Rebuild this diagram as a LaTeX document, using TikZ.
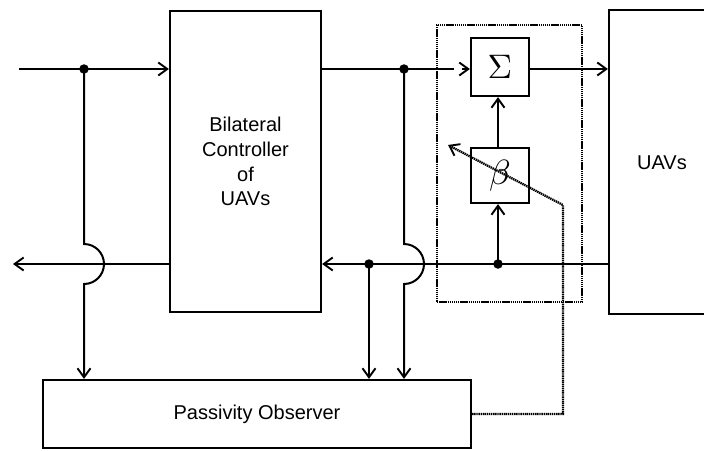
\documentclass[tikz,border=0pt]{standalone}
\usepackage{fontspec}
\setmainfont{Liberation Sans}
\usetikzlibrary{arrows.meta}
\begin{document}
\begin{tikzpicture}[x=1pt,y=-1pt,
  line width=2pt,
  blk/.style={draw, line width=2.2pt, inner sep=0pt, font=\fontsize{20}{24.7}\selectfont},
  sigarr/.style={-{Straight Barb[length=9pt,width=13pt,line width=1.9pt]}},
  dotline/.style={line width=2.3pt, dash pattern=on 1.4pt off 0.7pt},
  jdot/.style={circle, fill, inner sep=0pt, minimum size=9.5pt}
]
\useasboundingbox (0,0) rectangle (704,450);
\clip (0,0) rectangle (704,450);

% blocks
\node[blk, minimum width=151, minimum height=301, align=center] (bc) at (245.5,161.5)
  {Bilateral\\Controller\\of\\UAVs};
\node[blk, minimum width=110, minimum height=304] (uav) at (664,162) {};
\node[font=\fontsize{20}{24}\selectfont] (uavt) at (662,163) {UAVs};
\node[blk, minimum width=428, minimum height=68] (po) at (257,414) {Passivity Observer};
\node[blk, minimum width=58, minimum height=58] (sg) at (500,67)
  {\fontsize{10}{10}\selectfont\scalebox{3.4}{$\Sigma$}};
\node[blk, minimum width=58, minimum height=55] (bt) at (500,175.5)
  {\fontsize{10}{10}\selectfont\scalebox{3.5}{$\beta$}};
\node[draw, dotline, minimum width=145, minimum height=277, inner sep=0pt] (grp) at (509.5,163.5) {};

% junctions and points
\coordinate (in) at (19,69);
\node[jdot] (d1) at (84,69) {};
\node[jdot] (d2) at (404,69) {};
\node[jdot] (d3) at (369,264) {};
\node[jdot] (d4) at (498,264) {};
\coordinate (out) at (13,264);
\coordinate (g1) at (454,69);
\coordinate (g2) at (462,69);

% upper path
\draw[sigarr] (in) -- (bc.west |- in);
\draw (bc.east |- d2) -- (d2.center) -- (g1);
\draw[sigarr] (g2) -- (sg.west |- g2);
\draw[sigarr] (sg.east |- d2) -- (uav.west |- d2);

% lower path
\draw[sigarr] (uav.west |- d4) -- (d4.center) -- (d3.center) -- (bc.east |- d3);
\draw[sigarr] (bc.west |- out) -- (out);

% beta loop
\draw[sigarr] (d4.center) -- (d4 |- bt.south);
\draw[sigarr] (d4 |- bt.north) -- (d4 |- sg.south);

% vertical lines with hops
\draw[sigarr] (d1.center) -- (84,244) arc[start angle=90, end angle=-90, radius=20pt] -- (d1 |- po.north);
\draw[sigarr] (d2.center) -- (404,244) arc[start angle=90, end angle=-90, radius=20pt] -- (d2 |- po.north);
\draw[sigarr] (d3.center) -- (d3 |- po.north);

% adaptive control (dotted)
\coordinate (c1) at (563,414);
\coordinate (c2) at (563,205);
\coordinate (c3) at (448,145);
\draw[dotline, -{Straight Barb[length=9pt,width=13pt,line width=1.9pt]}] (po.east |- c1) -- (c1) -- (c2) -- (c3);
\end{tikzpicture}
\end{document}
